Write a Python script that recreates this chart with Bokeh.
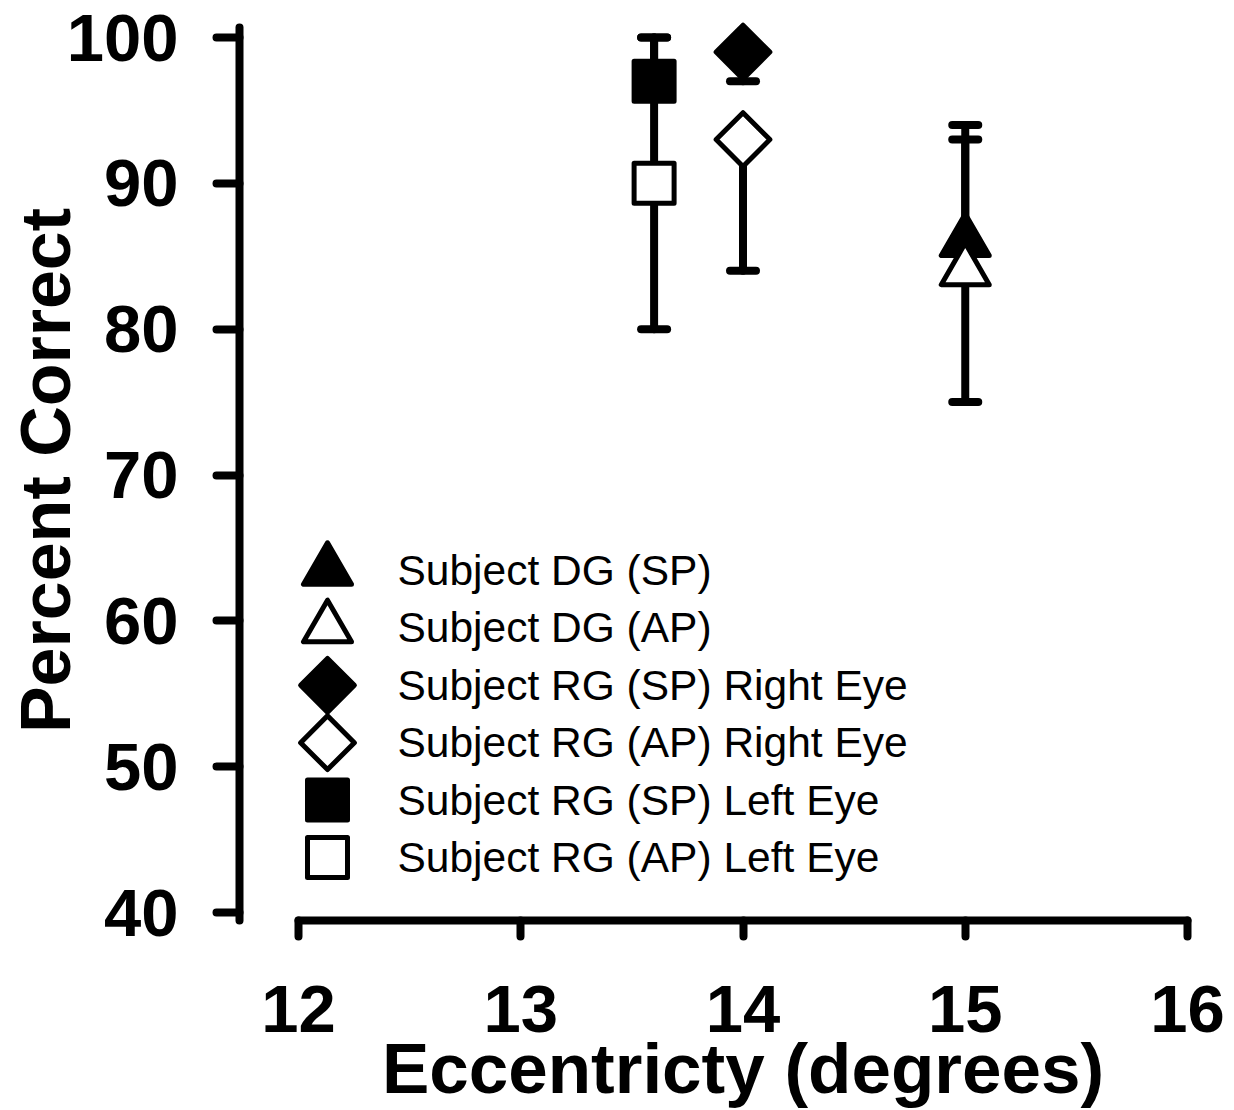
import math
from bokeh.plotting import figure
from bokeh.models import ColumnDataSource, FixedTicker, Whisker, TeeHead, Range1d, Label
from bokeh.embed import file_html
from bokeh.resources import INLINE
from bokeh.core.properties import value

# ---- data ----
series = [
    "Subject DG (SP)",
    "Subject DG (AP)",
    "Subject RG (SP) Right Eye",
    "Subject RG (AP) Right Eye",
    "Subject RG (SP) Left Eye",
    "Subject RG (AP) Left Eye",
]
eccentricity = [15.0, 15.0, 14.0, 14.0, 13.6, 13.6]
percent_correct = [86, 84, 99, 93, 97, 90]
err_lower = [None, 75, 97, 84, None, 80]     # lower end of error bar (None = not visible)
err_upper = [94, 93, None, None, 100, 100]   # upper end of error bar (None = not visible)
x_ticks = [12, 13, 14, 15, 16]
y_ticks = [40, 50, 60, 70, 80, 90, 100]
x_title = "Eccentricty (degrees)"
y_title = "Percent Correct"

# ---- styles ----
markers = ["triangle", "triangle", "square", "square", "square", "square"]
fills = ["black", "white", "black", "white", "black", "white"]
angles = [0, 0, math.pi / 4, math.pi / 4, 0, 0]
sizes = [48, 48, 38, 38, 40, 40]

# ---- layout (pixels) ----
W, H = 1234, 1110
X12, X16 = 298, 1187      # pixel columns of x = 12 and x = 16
Y100, Y40 = 37, 912       # pixel rows of y = 100 and y = 40
YAXIS_PX = 239            # column of the detached y-axis line
XAXIS_PX = 920            # row of the detached x-axis line
YAXIS_TOP = 27
px_x = (X16 - X12) / (x_ticks[-1] - x_ticks[0])
px_y = (Y40 - Y100) / (y_ticks[-1] - y_ticks[0])


def xdata(px):
    return x_ticks[0] + (px - X12) / px_x


def ydata(py):
    return y_ticks[0] + (Y40 - py) / px_y


p = figure(
    width=W, height=H,
    x_range=Range1d(xdata(0), xdata(W)), y_range=Range1d(ydata(H), ydata(0)),
    output_backend="svg", toolbar_location=None,
    min_border_left=0, min_border_top=0, min_border_right=0, min_border_bottom=0,
)
p.extra_x_ranges = {"px": Range1d(0, W)}
p.extra_y_ranges = {"px": Range1d(H, 0)}

p.outline_line_color = None
p.xgrid.visible = False
p.ygrid.visible = False
p.background_fill_color = "white"
p.border_fill_color = "white"

FONT = "Liberation Sans"
for ax in (p.xaxis[0], p.yaxis[0]):
    ax.axis_line_width = 8
    ax.axis_line_color = "black"
    ax.axis_line_cap = "round"
    ax.major_tick_line_width = 8
    ax.major_tick_line_cap = "round"
    ax.major_tick_line_color = "black"
    ax.major_tick_in = 0
    ax.minor_tick_out = 0
    ax.minor_tick_in = 0
    ax.major_label_text_font = FONT
    ax.major_label_text_font_style = "bold"
    ax.major_label_text_font_size = "67px"
    ax.major_label_text_color = "black"

p.xaxis.ticker = FixedTicker(ticks=x_ticks)
p.yaxis.ticker = FixedTicker(ticks=y_ticks)
p.xaxis.bounds = (x_ticks[0], x_ticks[-1])
p.yaxis.bounds = (ydata(XAXIS_PX), ydata(YAXIS_TOP))
p.xaxis.fixed_location = ydata(XAXIS_PX)
p.yaxis.fixed_location = xdata(YAXIS_PX)
p.xaxis.major_tick_out = 16
p.yaxis.major_tick_out = 23
p.xaxis.major_label_standoff = 49
p.yaxis.major_label_standoff = 38

# axis titles
p.add_layout(Label(
    x=(X12 + X16) / 2, y=H - 1068, x_units="screen", y_units="screen",
    text=x_title, text_align="center", text_baseline="middle",
    text_font=FONT, text_font_style="bold", text_font_size="71px", text_color="black",
))
p.add_layout(Label(
    x=45, y=H - 470, x_units="screen", y_units="screen", angle=math.pi / 2,
    text=y_title, text_align="center", text_baseline="middle",
    text_font=FONT, text_font_style="bold", text_font_size="70px", text_color="black",
))

src = ColumnDataSource(dict(
    x=eccentricity, y=percent_correct,
    marker=markers, fill=fills, angle=angles, size=sizes, label=series,
))

up_idx = [i for i, v in enumerate(err_upper) if v is not None]
lo_idx = [i for i, v in enumerate(err_lower) if v is not None]
up_src = ColumnDataSource(dict(
    x=[eccentricity[i] for i in up_idx],
    a=[percent_correct[i] for i in up_idx],
    b=[err_upper[i] for i in up_idx],
))
lo_src = ColumnDataSource(dict(
    x=[eccentricity[i] for i in lo_idx],
    a=[err_lower[i] for i in lo_idx],
    b=[percent_correct[i] for i in lo_idx],
))


def head():
    return TeeHead(size=26, line_width=8, line_color="black", line_cap="round")


p.add_layout(Whisker(base="x", lower="a", upper="b", dimension="height", source=up_src,
                     line_width=8, line_color="black", line_cap="round",
                     upper_head=head(), lower_head=None))
p.add_layout(Whisker(base="x", lower="a", upper="b", dimension="height", source=lo_src,
                     line_width=8, line_color="black", line_cap="round",
                     upper_head=None, lower_head=head()))

p.scatter(x="x", y="y", source=src, marker="marker", size="size", angle="angle",
          fill_color="fill", line_color="black", line_width=5, line_join="round")

# ---- key ----
key_x = 327
key_tx = 397
key_y0 = 570
key_dy = 57.4
key = ColumnDataSource(dict(
    kx=[key_x] * len(series),
    tx=[key_tx] * len(series),
    ky=[key_y0 + i * key_dy for i in range(len(series))],
    marker=markers, fill=fills, angle=angles, size=sizes, label=series,
))
p.scatter(x="kx", y="ky", source=key, marker="marker", size="size", angle="angle",
          fill_color="fill", line_color="black", line_width=5, line_join="round",
          x_range_name="px", y_range_name="px")
p.text(x="tx", y="ky", text="label", source=key, text_font=value(FONT),
       text_font_size="42.5px", text_baseline="middle", text_align="left",
       text_color="black", x_range_name="px", y_range_name="px")

open("out.html", "w").write(file_html(p, INLINE))
